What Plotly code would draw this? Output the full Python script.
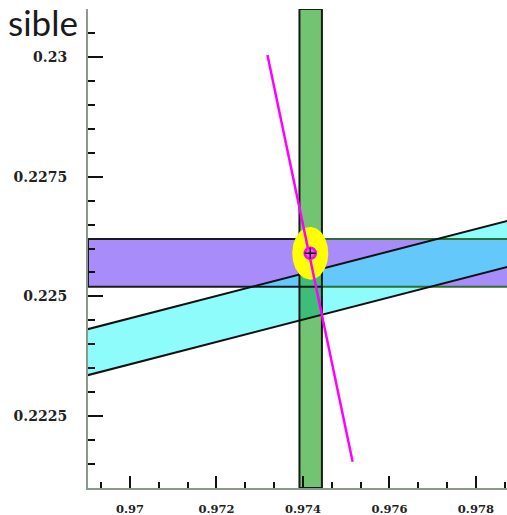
import numpy as np
import plotly.graph_objects as go

# Axis extents
x_range = [0.96903, 0.97872]
y_range = [0.221, 0.231]

# Horizontal band (purple)
hband_y = [0.2252, 0.2262]
# Vertical band (green)
vband_x = [0.97392, 0.97444]
# Sloped band (cyan): lower / upper edges evaluated at sband_x
sband_x = [0.969, 0.979]
sband_lower = [0.22335, 0.22568]
sband_upper = [0.22431, 0.22664]
# Magenta constraint line
mline_x = [0.97318, 0.97515]
mline_y = [0.23004, 0.22155]
# Fitted point and its error ellipse (semi-axes)
fit_x = 0.97417
fit_y = 0.2259
ell_rx = 0.000416
ell_ry = 0.00055

x_ticks = [0.970, 0.972, 0.974, 0.976, 0.978]
x_labels = ["0.97", "0.972", "0.974", "0.976", "0.978"]
y_ticks = [0.2225, 0.225, 0.2275, 0.23]
y_labels = ["0.2225", "0.225", "0.2275", "0.23"]

PURPLE = "#a88cf9"
GREEN = "#72c472"
CYAN = "#8ffcfc"
CYAN_PURPLE = "#64c8fa"
CYAN_GREEN = "#3dbd78"
YELLOW = "#ffff00"
MAGENTA = "#ff00ff"


def clip_polygon(pts, xmin, xmax, ymin, ymax):
    """Sutherland-Hodgman clip of a polygon against an axis-aligned box."""
    def clip_edge(poly, inside, cross):
        out = []
        for i in range(len(poly)):
            cur, prev = poly[i], poly[i - 1]
            if inside(cur):
                if not inside(prev):
                    out.append(cross(prev, cur))
                out.append(cur)
            elif inside(prev):
                out.append(cross(prev, cur))
        return out

    def at_x(xc):
        def f(p, q):
            t = (xc - p[0]) / (q[0] - p[0])
            return (xc, p[1] + t * (q[1] - p[1]))
        return f

    def at_y(yc):
        def f(p, q):
            t = (yc - p[1]) / (q[1] - p[1])
            return (p[0] + t * (q[0] - p[0]), yc)
        return f

    poly = list(pts)
    poly = clip_edge(poly, lambda p: p[0] >= xmin, at_x(xmin))
    poly = clip_edge(poly, lambda p: p[0] <= xmax, at_x(xmax))
    poly = clip_edge(poly, lambda p: p[1] >= ymin, at_y(ymin))
    poly = clip_edge(poly, lambda p: p[1] <= ymax, at_y(ymax))
    return poly


def fill_trace(poly, color):
    xs = [p[0] for p in poly] + [poly[0][0]]
    ys = [p[1] for p in poly] + [poly[0][1]]
    return go.Scatter(x=xs, y=ys, mode="lines", fill="toself", fillcolor=color,
                      line=dict(width=0), hoverinfo="skip", showlegend=False)


def line_trace(xs, ys, color, width):
    return go.Scatter(x=xs, y=ys, mode="lines", line=dict(color=color, width=width),
                      hoverinfo="skip", showlegend=False)


h_left, h_right = x_range[0], sband_x[1]
purple_poly = [(h_left, hband_y[0]), (h_right, hband_y[0]),
               (h_right, hband_y[1]), (h_left, hband_y[1])]
green_poly = [(vband_x[0], y_range[0]), (vband_x[1], y_range[0]),
              (vband_x[1], y_range[1]), (vband_x[0], y_range[1])]
cyan_poly = [(sband_x[0], sband_lower[0]), (sband_x[1], sband_lower[1]),
             (sband_x[1], sband_upper[1]), (sband_x[0], sband_upper[0])]

cyan_purple = clip_polygon(cyan_poly, h_left, h_right, hband_y[0], hband_y[1])
cyan_green = clip_polygon(cyan_poly, vband_x[0], vband_x[1], y_range[0], y_range[1])

fig = go.Figure()
fig.add_trace(fill_trace(purple_poly, PURPLE))
fig.add_trace(fill_trace(green_poly, GREEN))
fig.add_trace(fill_trace(cyan_poly, CYAN))
fig.add_trace(fill_trace(cyan_purple, CYAN_PURPLE))
fig.add_trace(fill_trace(cyan_green, CYAN_GREEN))

# Outlines of the purple band: black up to the green band, dark green beyond it
for yb in hband_y:
    fig.add_trace(line_trace([h_left, vband_x[1]], [yb, yb], "#1a1a1a", 2))
    fig.add_trace(line_trace([vband_x[1], h_right], [yb, yb], "#2e6e2e", 2))
fig.add_trace(line_trace([h_left, h_left], hband_y, "#1a1a1a", 2))

# Outline of the green band
gx = [p[0] for p in green_poly] + [green_poly[0][0]]
gy = [p[1] for p in green_poly] + [green_poly[0][1]]
fig.add_trace(line_trace(gx, gy, "#1a1a1a", 2))

# Edges of the sloped band
fig.add_trace(line_trace(sband_x, sband_lower, "#111111", 2))
fig.add_trace(line_trace(sband_x, sband_upper, "#111111", 2))

# Error ellipse around the fitted point
t = np.linspace(0, 2 * np.pi, 121)
fig.add_trace(go.Scatter(x=fit_x + ell_rx * np.cos(t), y=fit_y + ell_ry * np.sin(t),
                         mode="lines", fill="toself", fillcolor=YELLOW,
                         line=dict(width=0), hoverinfo="skip", showlegend=False))

# Magenta constraint line
fig.add_trace(line_trace(mline_x, mline_y, MAGENTA, 2.5))

# Fitted point
fig.add_trace(go.Scatter(x=[fit_x], y=[fit_y], mode="markers",
                         marker=dict(symbol="circle", size=11, color="#e858e8",
                                     line=dict(color=MAGENTA, width=2.5)),
                         hoverinfo="skip", showlegend=False))
fig.add_trace(go.Scatter(x=[fit_x], y=[fit_y], mode="markers",
                         marker=dict(symbol="cross-thin", size=8,
                                     line=dict(color="#111111", width=1.5)),
                         hoverinfo="skip", showlegend=False))

x_font = dict(family="DejaVu Serif", size=11.5, color="#222222", weight="bold")
y_font = dict(family="DejaVu Serif", size=14, color="#222222", weight="bold")

fig.update_xaxes(
    range=x_range, showgrid=False, zeroline=False,
    showline=True, linecolor="#8c998c", linewidth=2,
    ticks="inside", ticklen=12, tickwidth=2, tickcolor="#111111",
    tickmode="array", tickvals=x_ticks, ticktext=x_labels,
    tickfont=x_font, ticklabelstandoff=9,
    minor=dict(ticks="inside", ticklen=6, tickwidth=1.5, tickcolor="#111111",
               tick0=x_ticks[0], dtick=(x_ticks[1] - x_ticks[0]) / 3, showgrid=False),
)
fig.update_yaxes(
    range=y_range, showgrid=False, zeroline=False,
    showline=True, linecolor="#8c998c", linewidth=2,
    ticks="inside", ticklen=15, tickwidth=2, tickcolor="#111111",
    tickmode="array", tickvals=y_ticks, ticktext=y_labels,
    tickfont=y_font, ticklabelstandoff=16,
    minor=dict(ticks="inside", ticklen=7, tickwidth=1.5, tickcolor="#111111",
               tick0=y_ticks[0], dtick=0.0005, showgrid=False),
)

fig.add_annotation(text="sible", xref="paper", yref="paper",
                   x=-0.021, y=1.0188, xanchor="right", yanchor="top",
                   borderpad=0, showarrow=False,
                   font=dict(family="Lato", size=35, color="#1a1a1a"))

fig.update_layout(
    width=507, height=515,
    margin=dict(l=88, r=0, t=9, b=27),
    paper_bgcolor="white", plot_bgcolor="white",
    showlegend=False,
)

fig.write_html("out.html")
